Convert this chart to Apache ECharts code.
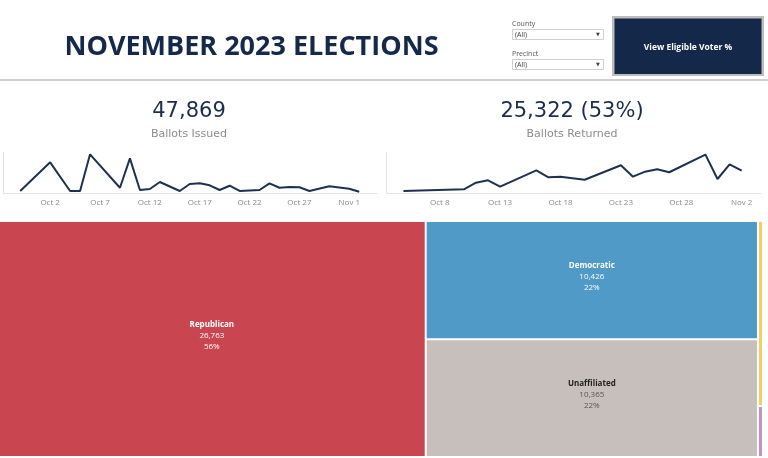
<!DOCTYPE html>
<html><head><meta charset="utf-8">
<script src="https://cdn.jsdelivr.net/npm/echarts@6/dist/echarts.min.js"></script>
<style>html,body{margin:0;padding:0;background:#fff}#c{width:768px;height:458px}</style>
</head><body><div id="c"></div>
<script>
// ---------------- data ----------------
const titleText = 'NOVEMBER 2023 ELECTIONS';
const kpiIssued = '47,869';
const kpiIssuedLabel = 'Ballots Issued';
const kpiReturned = '25,322 (53%)';
const kpiReturnedLabel = 'Ballots Returned';
const filterLabels = ['County', 'Precinct'];
const filterValues = ['(All)', '(All)'];
const buttonText = 'View Eligible Voter %';

const issuedDates = ['2023-09-29','2023-10-02','2023-10-04','2023-10-05','2023-10-06','2023-10-09','2023-10-10','2023-10-11','2023-10-12','2023-10-13','2023-10-15','2023-10-16','2023-10-17','2023-10-18','2023-10-19','2023-10-20','2023-10-21','2023-10-23','2023-10-24','2023-10-25','2023-10-26','2023-10-27','2023-10-28','2023-10-30','2023-11-01','2023-11-02'];
const issuedValues = [490,6570,490,490,8260,1180,7410,700,910,2390,490,1970,2120,1690,700,1610,490,700,2120,1180,1340,1270,490,1480,980,340];
const issuedTicks = ['2023-10-02','2023-10-07','2023-10-12','2023-10-17','2023-10-22','2023-10-27','2023-11-01'];

const returnedDates = ['2023-10-05','2023-10-10','2023-10-11','2023-10-12','2023-10-13','2023-10-16','2023-10-17','2023-10-18','2023-10-20','2023-10-23','2023-10-24','2023-10-25','2023-10-26','2023-10-27','2023-10-30','2023-10-31','2023-11-01','2023-11-02'];
const returnedValues = [180,315,835,1025,520,1810,1260,1310,1070,2205,1310,1700,1890,1655,3040,1125,2285,1780];
const returnedTicks = ['2023-10-08','2023-10-13','2023-10-18','2023-10-23','2023-10-28','2023-11-02'];

const parties = ['Republican','Democratic','Unaffiliated','Libertarian','Other'];
const partyBallots = [26763,10426,10365,247,68];
const partyColors = ['#c94651','#4f9ac6','#c7bfbc','#f1cf63','#c392c0'];

// ---------------- helpers ----------------
const day0 = Date.UTC(2023, 8, 30);
const toDay = s => { const p = s.split('-').map(Number); return (Date.UTC(p[0], p[1]-1, p[2]) - day0) / 864e5; };
const MONTHS = ['Jan','Feb','Mar','Apr','May','Jun','Jul','Aug','Sep','Oct','Nov','Dec'];
const fmtDay = v => { const dt = new Date(day0 + Math.round(v) * 864e5); return MONTHS[dt.getUTCMonth()] + ' ' + dt.getUTCDate(); };
const total = partyBallots.reduce((a, b) => a + b, 0);
const fmtNum = v => v.toLocaleString('en-US');

const chart = echarts.init(document.getElementById('c'), null, {renderer: 'canvas', width: 768, height: 458});

const axisGray = '#e4e4e4';
const lineColor = '#1f3150';
const LINE_H = 11;

function xAxisCfg(gridIndex, min, max, ticks) {
  return {
    type: 'value', gridIndex, min, max,
    axisLine: {show: true, onZero: false, lineStyle: {color: axisGray, width: 1}},
    axisTick: {show: false},
    splitLine: {show: false},
    axisLabel: {
      customValues: ticks.map(toDay),
      formatter: v => fmtDay(v),
      fontSize: 8, color: '#8a8a8a', margin: 5, fontFamily: 'Open Sans'
    }
  };
}
function yAxisCfg(gridIndex, max) {
  return {
    type: 'value', gridIndex, min: 0, max,
    axisLine: {show: true, onZero: false, lineStyle: {color: axisGray, width: 1}},
    axisTick: {show: false}, axisLabel: {show: false}, splitLine: {show: false}
  };
}

function leafLabel(dark) {
  return {
    show: true,
    position: 'inside',
    align: 'center',
    verticalAlign: 'middle',
    padding: [0, 0, 0, 0],
    formatter: p => '{n|' + p.name + '}\n{v|' + fmtNum(p.value) + '}\n{v|' + Math.round(p.value / total * 100) + '%}',
    rich: {
      n: {fontFamily: 'Open Sans', fontWeight: 'bold', fontSize: 8, lineHeight: LINE_H, color: dark ? '#222' : '#fff'},
      v: {fontFamily: 'Open Sans', fontSize: 8, lineHeight: LINE_H, color: dark ? '#555' : '#fff'}
    }
  };
}

const leafItems = {};
const leaf = (i, dark) => (leafItems[parties[i]] = {name: parties[i], value: partyBallots[i], itemStyle: {color: partyColors[i]}, label: leafLabel(dark)});
const tiny = i => ({name: parties[i], value: partyBallots[i], itemStyle: {color: partyColors[i]}, label: {show: false}});

const treeData = [
  leaf(0, false),
  {name: 'DemUnaff', itemStyle: {color: '#fff', borderColor: '#fff'}, children: [leaf(1, false), leaf(2, true)]},
  tiny(3),
  tiny(4)
];

const txt = (x, y, text, font, fill, align) => ({
  type: 'text', x, y, silent: true,
  style: {text, font, fill, align: align || 'center', verticalAlign: 'middle', textAlign: align || 'center', textVerticalAlign: 'middle'}
});

const graphics = [
  txt(251.5, 47, titleText, 'bold 27px "Open Sans"', '#15294a'),
  {type: 'rect', shape: {x: 0, y: 79, width: 768, height: 2}, style: {fill: '#cfcfcf'}, silent: true},
  // filters
  txt(512, 23.5, filterLabels[0], '7px "Open Sans"', '#555', 'left'),
  {type: 'rect', shape: {x: 512.5, y: 29.5, width: 91, height: 10}, style: {fill: '#fff', stroke: '#cfcfcf', lineWidth: 1}, silent: true},
  txt(515, 34.5, filterValues[0], '7px "Open Sans"', '#444', 'left'),
  txt(598, 34.5, '\u25BC', '5px "DejaVu Sans"', '#444'),
  txt(512, 53.5, filterLabels[1], '7px "Open Sans"', '#555', 'left'),
  {type: 'rect', shape: {x: 512.5, y: 59.5, width: 91, height: 10}, style: {fill: '#fff', stroke: '#cfcfcf', lineWidth: 1}, silent: true},
  txt(515, 64.5, filterValues[1], '7px "Open Sans"', '#444', 'left'),
  txt(598, 64.5, '\u25BC', '5px "DejaVu Sans"', '#444'),
  // button
  {type: 'rect', shape: {x: 612, y: 16, width: 152, height: 60}, style: {fill: '#bdbdbd'}, silent: true},
  {type: 'rect', shape: {x: 614.5, y: 18.5, width: 147, height: 55.5}, style: {fill: '#14284a'}, silent: true},
  txt(688, 47.5, buttonText, 'bold 8.5px "Open Sans"', '#ffffff'),
  // KPIs
  txt(189, 112, kpiIssued, '21px "DejaVu Sans"', '#1b2d4b'),
  txt(189, 134.5, kpiIssuedLabel, '11px "DejaVu Sans"', '#8c8c8c'),
  txt(572, 112, kpiReturned, '21px "DejaVu Sans"', '#1b2d4b'),
  txt(572, 134.5, kpiReturnedLabel, '11px "DejaVu Sans"', '#8c8c8c')
];

function buildOption() {
  return {
    animation: false,
    backgroundColor: '#fff',
    graphic: graphics,
    grid: [
      {left: 3, top: 152, width: 374, height: 41.3},
      {left: 386.7, top: 152, width: 374.3, height: 41.3}
    ],
    xAxis: [
      xAxisCfg(0, -2.73, 34.78, issuedTicks),
      xAxisCfg(1, 3.61, 34.6, returnedTicks)
    ],
    yAxis: [yAxisCfg(0, 8760), yAxisCfg(1, 3250)],
    series: [
      {type: 'line', xAxisIndex: 0, yAxisIndex: 0, showSymbol: false, silent: true,
       lineStyle: {color: lineColor, width: 2}, itemStyle: {color: lineColor},
       data: issuedDates.map((d, i) => [toDay(d), issuedValues[i]])},
      {type: 'line', xAxisIndex: 1, yAxisIndex: 1, showSymbol: false, silent: true,
       lineStyle: {color: lineColor, width: 2}, itemStyle: {color: lineColor},
       data: returnedDates.map((d, i) => [toDay(d), returnedValues[i]])},
      {
        type: 'treemap',
        left: -1, top: 222, width: 763, height: 234,
        squareRatio: 3,
        roam: false, nodeClick: false,
        breadcrumb: {show: false},
        upperLabel: {show: false},
        emphasis: {disabled: true},
        levels: [
          {itemStyle: {borderWidth: 0, gapWidth: 2, borderColor: '#fff'}},
          {itemStyle: {borderWidth: 0, gapWidth: 2, borderColor: '#fff'}},
          {itemStyle: {borderWidth: 0, gapWidth: 0, borderColor: '#fff'}}
        ],
        data: treeData
      }
    ]
  };
}

chart.setOption(buildOption());

// vertically centre the cell labels using the treemap's own computed layout
(function centerLabels() {
  const sm = chart.getModel().getSeries().find(s => s.subType === 'treemap');
  if (!sm) return;
  sm.getData().tree.eachNode(node => {
    const item = leafItems[node.name];
    const lay = node.getLayout();
    if (item && lay) {
      const blockH = 3 * LINE_H;
      item.label.padding = [Math.max(0, lay.height / 2 - blockH / 2 - 3), 0, 0, 0];
    }
  });
  chart.setOption(buildOption(), true);
})();
</script>
</body></html>
